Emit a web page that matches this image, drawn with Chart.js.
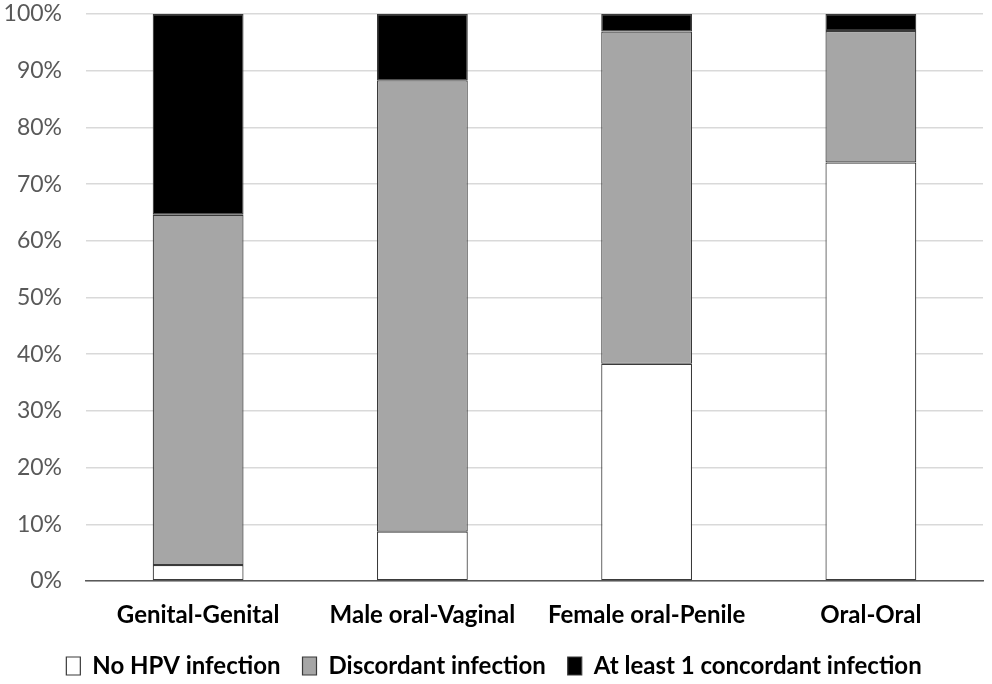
<!DOCTYPE html>
<html>
<head>
<meta charset="utf-8">
<script src="https://cdn.jsdelivr.net/npm/chart.js@4"></script>
<style>
  html, body { margin: 0; padding: 0; background: #fff; }
  #wrap { width: 992px; height: 684px; }
</style>
</head>
<body>
<div id="wrap"><canvas id="chart" width="992" height="684"></canvas></div>
<script>
// Dados (percentagens)
const categorias = ['Genital-Genital', 'Male oral-Vaginal', 'Female oral-Penile', 'Oral-Oral'];
const semHPV = [2.8, 8.7, 38.3, 73.8];
const discordante = [61.8, 79.6, 58.6, 23.2];
const concordante = [35.4, 11.7, 3.1, 3.0];
const ticksY = [0, 10, 20, 30, 40, 50, 60, 70, 80, 90, 100];

const fonte = "Lato, 'Open Sans', sans-serif";

function serie(label, data, cor) {
  return {
    label,
    data,
    backgroundColor: cor,
    borderColor: '#3a3a3a',
    borderWidth: 1.2,
    borderSkipped: false,
    barPercentage: 0.405,
    categoryPercentage: 1,
  };
}

new Chart(document.getElementById('chart').getContext('2d'), {
  type: 'bar',
  data: {
    labels: categorias,
    datasets: [
      serie('No HPV infection', semHPV, '#ffffff'),
      serie('Discordant infection', discordante, '#a6a6a6'),
      serie('At least 1 concordant infection', concordante, '#000000'),
    ],
  },
  options: {
    responsive: false,
    animation: false,
    layout: { padding: { top: 1, right: 9, left: 5, bottom: -4 } },
    plugins: {
      tooltip: { enabled: false },
      legend: {
        position: 'bottom',
        labels: {
          color: '#000',
          font: { family: fonte, size: 24, weight: 'bold' },
          boxWidth: 14,
          boxHeight: 18,
          padding: 22,
        },
      },
    },
    scales: {
      x: {
        stacked: true,
        grid: { display: false },
        border: { color: '#595959', width: 1.5 },
        ticks: { color: '#000', font: { family: fonte, size: 24, weight: 'bold' }, padding: 12, maxRotation: 0 },
        afterFit: (ax) => { ax.height = 51; ax.paddingLeft = 0; ax.paddingRight = 0; },
      },
      y: {
        stacked: true,
        min: 0,
        max: 100,
        afterBuildTicks: (ax) => { ax.ticks = ticksY.map((v) => ({ value: v })); },
        grid: { color: '#d9d9d9', lineWidth: 1.5, drawTicks: false },
        border: { display: false },
        ticks: {
          color: '#595959',
          font: { family: fonte, size: 23 },
          padding: 24,
          callback: (v) => v + '%',
        },
        afterFit: (ax) => { ax.width = 81; ax.paddingTop = 14; ax.paddingBottom = 0; },
      },
    },
  },
});
</script>
</body>
</html>
